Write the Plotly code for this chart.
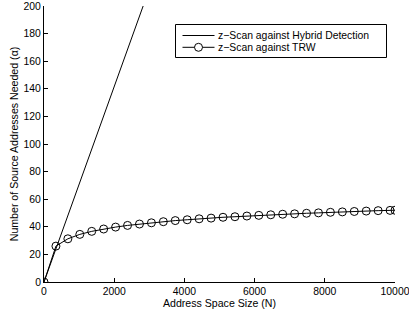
import plotly.graph_objects as go

# Address space sizes (N)
N = [0, 340, 680, 1020, 1360, 1700, 2040, 2380, 2720, 3060, 3400, 3740, 4080,
     4420, 4760, 5100, 5440, 5780, 6120, 6460, 6800, 7140, 7480, 7820, 8160,
     8500, 8840, 9180, 9520, 9860, 10000]

# z-Scan against TRW
trw = [0, 26.0, 31.3, 34.5, 36.7, 38.4, 39.8, 41.0, 42.0, 42.9, 43.7, 44.5, 45.1,
       45.8, 46.3, 46.9, 47.3, 47.8, 48.3, 48.7, 49.1, 49.4, 49.8, 50.1, 50.5,
       50.8, 51.1, 51.4, 51.7, 51.9, 52.0]

# z-Scan against Hybrid Detection (linear, clipped by axis at 200)
hyb_N = [0, 1000, 2000, 3000, 4000]
hybrid = [0, 70.8, 141.6, 212.4, 283.2]

x_ticks = [0, 2000, 4000, 6000, 8000, 10000]
x_tick_labels = ["0", "2000", "4000", "6000", "8000", "10000"]
y_ticks = [0, 20, 40, 60, 80, 100, 120, 140, 160, 180, 200]
y_tick_labels = [str(v) for v in y_ticks]

series_names = ["z−Scan against Hybrid Detection", "z−Scan against TRW"]

FONT = "Liberation Sans, Arial, Helvetica, sans-serif"

fig = go.Figure()
fig.add_trace(go.Scatter(
    x=hyb_N, y=hybrid, mode="lines", name=series_names[0],
    line=dict(color="black", width=1)))
fig.add_trace(go.Scatter(
    x=N, y=trw, mode="lines+markers", name=series_names[1],
    line=dict(color="black", width=1),
    marker=dict(symbol="circle-open", size=8, color="black", line=dict(width=1))))

axis_common = dict(
    showgrid=False, zeroline=False, showline=True, linecolor="black", linewidth=1,
    ticks="inside", ticklen=4, tickcolor="black", tickwidth=1, automargin=False,
    ticklabeloverflow="allow",
    tickfont=dict(family=FONT, size=10.4, color="black"), mirror=False)

W, H = 409, 317
ML, MR, MT, MB = 44, 14, 6, 35
PW, PH = W - ML - MR, H - MT - MB


def px(xp):
    return (xp - ML) / PW


def py(yp):
    return (H - MB - yp) / PH


ROW1, ROW2 = 35.5, 47.3

# Legend drawn as a compact MATLAB-style box
shapes = [
    dict(type="rect", xref="paper", yref="paper", x0=px(175.5), x1=px(386.5),
         y0=py(57.5), y1=py(24.5), line=dict(color="black", width=1), fillcolor="white",
         layer="above"),
    dict(type="line", xref="paper", yref="paper", x0=px(182.5), x1=px(214.5),
         y0=py(ROW1), y1=py(ROW1), line=dict(color="black", width=1), layer="above"),
    dict(type="line", xref="paper", yref="paper", x0=px(182.5), x1=px(214.5),
         y0=py(ROW2), y1=py(ROW2), line=dict(color="black", width=1), layer="above"),
    dict(type="circle", xref="paper", yref="paper", x0=px(198.5 - 4), x1=px(198.5 + 4),
         y0=py(ROW2 + 4), y1=py(ROW2 - 4), line=dict(color="black", width=1),
         fillcolor="white", layer="above"),
]
annotations = [
    dict(text=series_names[0], xref="paper", yref="paper", x=px(216), y=py(ROW1),
         xanchor="left", yanchor="middle", showarrow=False,
         font=dict(family=FONT, size=10.4, color="black")),
    dict(text=series_names[1], xref="paper", yref="paper", x=px(216), y=py(ROW2),
         xanchor="left", yanchor="middle", showarrow=False,
         font=dict(family=FONT, size=10.4, color="black")),
]

fig.update_layout(
    width=W, height=H,
    margin=dict(l=ML, r=MR, t=MT, b=MB),
    paper_bgcolor="white", plot_bgcolor="white",
    font=dict(family=FONT, size=10, color="black"),
    xaxis=dict(range=[0, 10000], tickvals=x_ticks, ticktext=x_tick_labels,
               title=dict(text="Address Space Size (N)", font=dict(size=10.6), standoff=2),
               **axis_common),
    yaxis=dict(range=[0, 200], tickvals=y_ticks, ticktext=y_tick_labels,
               title=dict(text="Number of Source Addresses Needed (α)", font=dict(size=10.6), standoff=2),
               **axis_common),
    showlegend=False,
    shapes=shapes,
    annotations=annotations,
)

fig.write_html("out.html", config={"displayModeBar": False},
               post_script="document.body.style.margin='0';document.body.style.padding='0';")
